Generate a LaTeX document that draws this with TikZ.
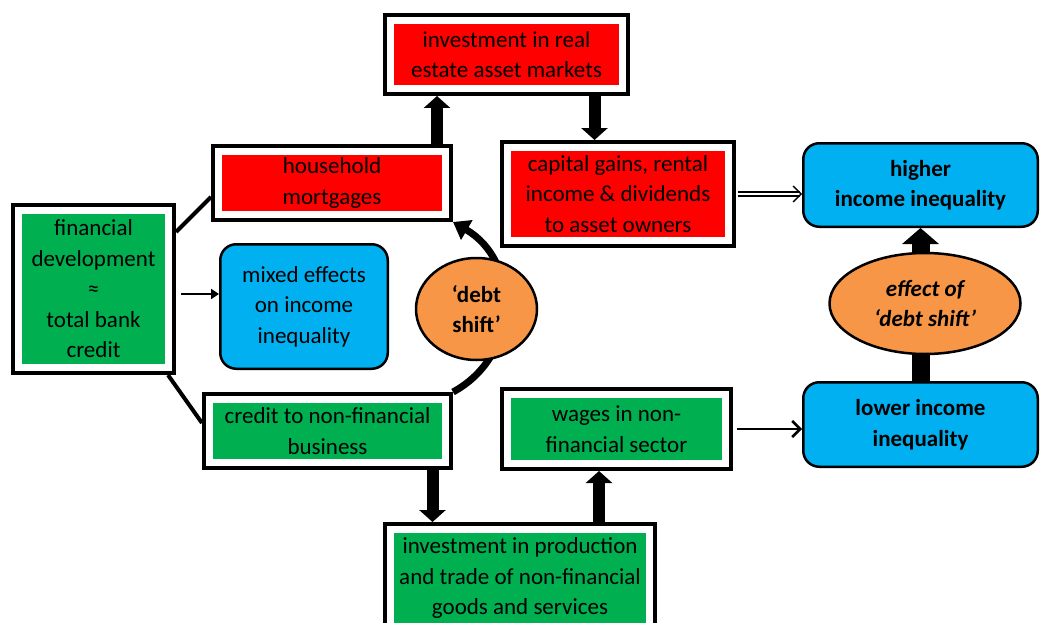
\documentclass[tikz,border=0pt]{standalone}
\usepackage{fontspec}
\setmainfont{Carlito}
\usetikzlibrary{arrows.meta,shapes.geometric}
\definecolor{redbox}{RGB}{255,0,0}
\definecolor{greenbox}{RGB}{0,176,80}
\definecolor{bluebox}{RGB}{0,176,240}
\definecolor{orangeoval}{RGB}{247,150,70}
\newcommand{\boxfont}{\fontsize{23}{30.5}\selectfont}

\begin{document}
\begin{tikzpicture}[x=1pt,y=-1pt,font=\boxfont,
    framed/.style={fill=#1,draw=white,line width=7pt,preaction={draw=black,line width=15pt},
        outer sep=7.5pt,inner sep=0pt,align=center},
    roundbox/.style={fill=bluebox,draw=black,line width=2.5pt,rounded corners=16pt,
        inner sep=0pt,align=center},
    oval/.style={ellipse,fill=orangeoval,draw=black,line width=2.5pt,inner sep=0pt,
        align=center,font=\boxfont\bfseries},
    fat/.style={line width=12pt,-{Triangle[width=26pt,length=12pt]}},
    link/.style={line width=4pt},
    thinarrow/.style={line width=2pt,-{Triangle[width=10pt,length=8pt]}},
    openarrow/.style={line width=2pt,-{Straight Barb[width=16pt,length=8pt,line width=2.5pt]}}]
            \clip (0,0) rectangle (1043,623);
            % boxes
            \node[framed=redbox,minimum width=232pt,minimum height=68pt] (realest) at (506.5,54.5) {investment in real\\estate asset markets};
            \node[framed=redbox,minimum width=227pt,minimum height=63pt] (mort) at (332,183) {household\\mortgages};
            \node[framed=redbox,minimum width=221pt,minimum height=93pt] (capital) at (618,194) {capital gains, rental\\income \& dividends\\to asset owners};
            \node[framed=greenbox,minimum width=150pt,minimum height=157pt] (fin) at (93.5,289) {financial\\development\\≈\\total bank\\credit};
            \node[framed=greenbox,minimum width=236pt,minimum height=63pt] (credit) at (327.5,431) {credit to non-financial\\business};
            \node[framed=greenbox,minimum width=218pt,minimum height=69pt] (wages) at (616.5,429) {wages in non-\\financial sector};
            \node[framed=greenbox,minimum width=259pt,minimum height=97pt] (prod) at (520,578) {investment in production\\and trade of non-financial\\goods and services};
            \node[roundbox,minimum width=167.5pt,minimum height=124.5pt] (mixed) at (304,306.5) {mixed effects\\on income\\inequality};
            \node[roundbox,font=\boxfont\bfseries,minimum width=234.5pt,minimum height=83.5pt] (higher) at (920.5,185) {higher\\income inequality};
            \node[roundbox,font=\boxfont\bfseries,minimum width=234.5pt,minimum height=84.5pt] (lower) at (920.5,424.5) {lower income\\inequality};
            % connectors
            \draw[link] ([yshift=-29pt]fin.north east) -- ([yshift=25pt]mort.south west);
            \draw[link] ([xshift=-8pt]fin.south east) -- ([yshift=-31pt]credit.north west);
            \coordinate (fmid) at ([yshift=-5pt]fin.east);
            \draw[thinarrow] ([xshift=5pt]fmid) -- (fmid -| mixed.west);
            \draw[fat] ([xshift=105pt]mort.north) -- ([xshift=105pt]mort.north |- realest.south);
            \draw[fat] ([xshift=88pt]realest.south) -- ([xshift=88pt]realest.south |- capital.north);
            \draw[fat] ([xshift=105pt]credit.south) -- ([xshift=105pt]credit.south |- prod.north);
            \draw[fat] ([xshift=-17.5pt]wages.south |- prod.north) -- ([xshift=-17.5pt]wages.south);
            \draw[double,double distance=2.5pt,line width=1.3pt,-{Straight Barb[width=16pt,length=8pt]}] ([xshift=2pt]capital.east) -- (capital.east -| higher.west);
            \draw[openarrow] ([xshift=4pt]wages.east) -- (wages.east -| lower.west);
            \draw[line width=7pt,-{Triangle[width=22pt,length=16pt]}] (credit.north east) .. controls +(68,-37) and +(67,39) .. (mort.south east);
            \draw[line width=18pt,-{Triangle[width=36pt,length=16pt]}] (lower.north) -- (higher.south);
            % ovals
            \node[oval,minimum width=121pt,minimum height=102pt] (debt) at (476.5,309) {‘debt\\shift’};
            \node[oval,font=\boxfont\bfseries\itshape,minimum width=191pt,minimum height=101pt] (effect) at (925,303.5) {effect of\\‘debt shift’};
\end{tikzpicture}
\end{document}
